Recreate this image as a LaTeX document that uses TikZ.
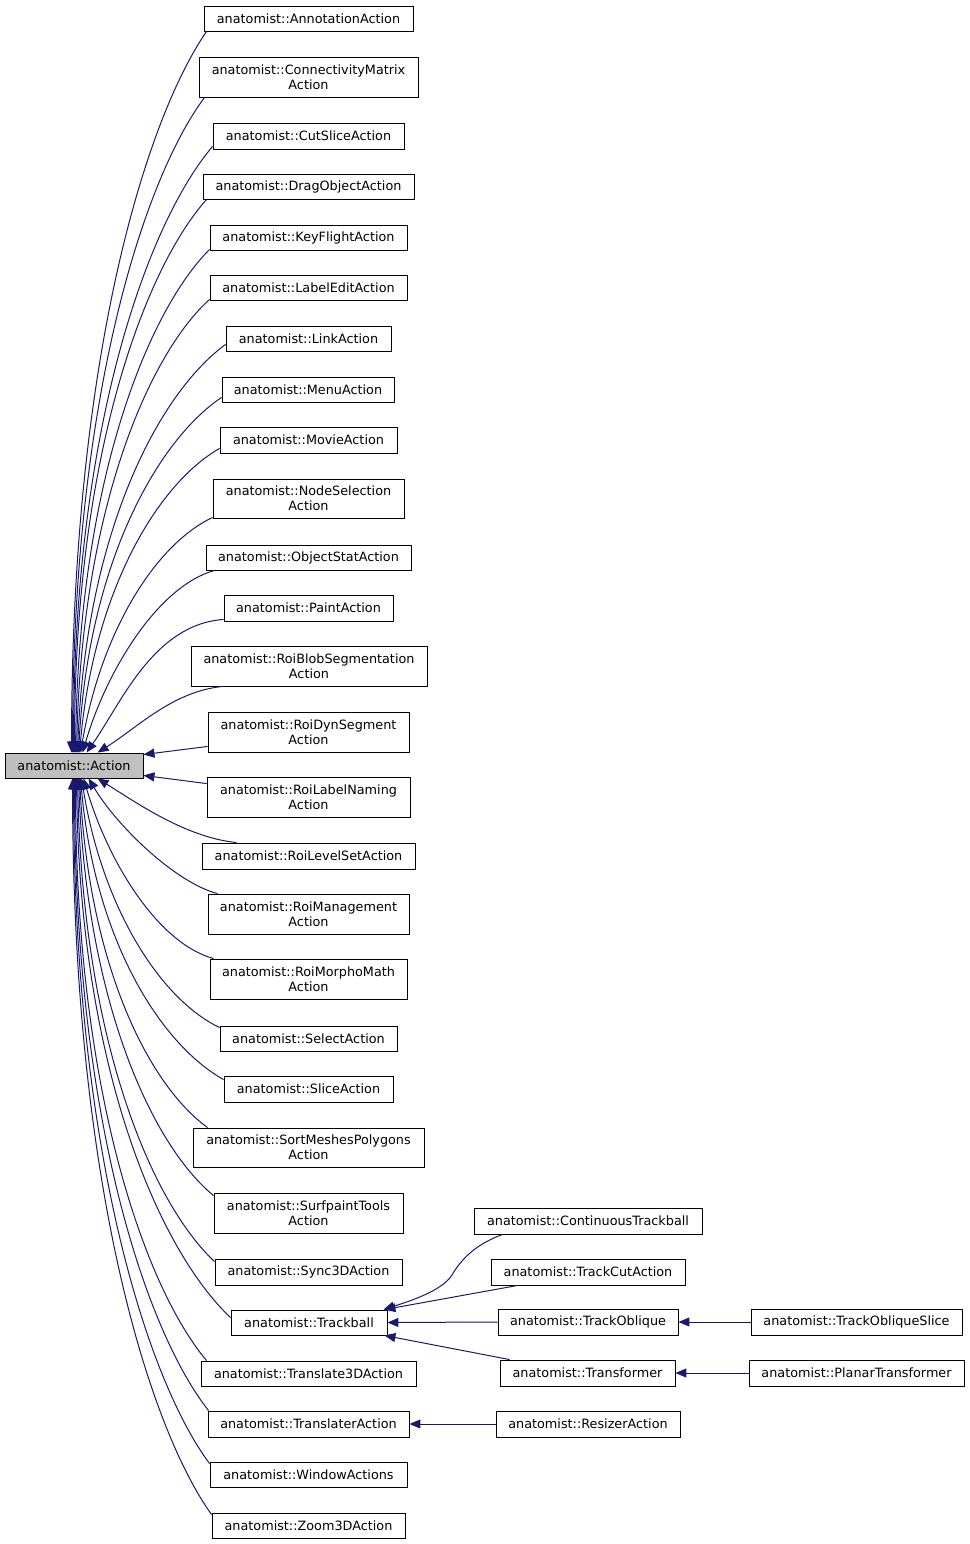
\documentclass[tikz,border=0pt]{standalone}
\usepackage{fontspec}
\setmainfont{DejaVu Sans}
\usetikzlibrary{arrows.meta}
\definecolor{edgec}{HTML}{191970}
\definecolor{actfill}{HTML}{BFBFBF}
\tikzset{
  cls/.style={draw=black, line width=0.9pt, fill=white, inner sep=0pt, align=center,
    font=\fontsize{12.8}{14.6}\selectfont},
  edge/.style={draw=edgec, line width=1pt, -{Triangle[length=11pt,width=9pt,fill=edgec]}}
}
\newcommand\classbox[6]{\node[cls,minimum width={#4-#2},minimum height={#5-#3}] (#1) at ({(#2+#4)/2},{(#3+#5)/2}) {#6};}
\newcommand\upedge[8]{\draw[edge] ([shift={(#2,#3)}]#1.south west) .. controls +(#5,#6) and +(#7,#8) .. ([xshift={#4-5}]act.north west);}
\newcommand\downedge[8]{\draw[edge] ([shift={(#2,#3)}]#1.north west) .. controls +(#5,#6) and +(#7,#8) .. ([xshift={#4-5}]act.south west);}
\begin{document}
\begin{tikzpicture}[x=1pt,y=-1pt]
\useasboundingbox[fill=white] (0,0) rectangle (969,1544);
\node[cls,fill=actfill,minimum width=138,minimum height=25] (act) at (74,765.5) {anatomist::Action};
\classbox{annot}{204}{6}{413}{31}{anatomist::AnnotationAction}
\classbox{conn}{199}{57}{418}{97}{anatomist::ConnectivityMatrix\\Action}
\classbox{cut}{213}{123}{404}{149}{anatomist::CutSliceAction}
\classbox{drag}{203}{174}{414}{199}{anatomist::DragObjectAction}
\classbox{key}{210}{225}{407}{250}{anatomist::KeyFlightAction}
\classbox{label}{210}{275}{407}{300}{anatomist::LabelEditAction}
\classbox{link}{226}{326}{391}{351}{anatomist::LinkAction}
\classbox{menu}{222}{377}{394}{402}{anatomist::MenuAction}
\classbox{movie}{220}{427}{397}{453}{anatomist::MovieAction}
\classbox{nodesel}{213}{479}{404}{518}{anatomist::NodeSelection\\Action}
\classbox{objstat}{206}{545}{411}{570}{anatomist::ObjectStatAction}
\classbox{paint}{224}{595}{393}{621}{anatomist::PaintAction}
\classbox{roiblob}{191}{646}{427}{686}{anatomist::RoiBlobSegmentation\\Action}
\classbox{roidyn}{208}{712}{409}{752}{anatomist::RoiDynSegment\\Action}
\classbox{roilabel}{207}{777}{410}{817}{anatomist::RoiLabelNaming\\Action}
\classbox{levelset}{202}{843}{415}{869}{anatomist::RoiLevelSetAction}
\classbox{roimgmt}{208}{894}{409}{934}{anatomist::RoiManagement\\Action}
\classbox{morpho}{210}{959}{407}{999}{anatomist::RoiMorphoMath\\Action}
\classbox{select}{220}{1026}{397}{1051}{anatomist::SelectAction}
\classbox{slice}{224}{1076}{393}{1102}{anatomist::SliceAction}
\classbox{sortmesh}{193}{1128}{424}{1167}{anatomist::SortMeshesPolygons\\Action}
\classbox{surfpaint}{214}{1193}{403}{1233}{anatomist::SurfpaintTools\\Action}
\classbox{sync}{215}{1259}{402}{1285}{anatomist::Sync3DAction}
\classbox{trackball}{231}{1310}{387}{1335}{anatomist::Trackball}
\classbox{transl3d}{201}{1361}{416}{1386}{anatomist::Translate3DAction}
\classbox{translater}{208}{1411}{409}{1437}{anatomist::TranslaterAction}
\classbox{window}{210}{1462}{407}{1487}{anatomist::WindowActions}
\classbox{zoom}{212}{1513}{405}{1538}{anatomist::Zoom3DAction}
\classbox{contTB}{474}{1208}{702}{1234}{anatomist::ContinuousTrackball}
\classbox{trackcut}{491}{1259}{685}{1285}{anatomist::TrackCutAction}
\classbox{trackobl}{498}{1309}{678}{1335}{anatomist::TrackOblique}
\classbox{transformer}{500}{1360}{675}{1386}{anatomist::Transformer}
\classbox{resizer}{496}{1411}{680}{1437}{anatomist::ResizerAction}
\classbox{tobslice}{751}{1309}{962}{1335}{anatomist::TrackObliqueSlice}
\classbox{planar}{749}{1360}{964}{1386}{anatomist::PlanarTransformer}
% edges to the top of Action
\upedge{annot}{3}{0}{72}{-60}{87}{0}{-397}
\upedge{conn}{6}{0}{73}{-59}{79}{0}{-360}
\upedge{cut}{0}{-3}{74}{-62}{73}{0}{-333}
\upedge{drag}{4}{0}{75}{-59}{66}{0}{-304}
\upedge{key}{0}{-1}{76}{-60}{60}{3}{-275}
\upedge{label}{0}{-1}{77}{-60}{54}{5}{-245}
\upedge{link}{0}{-7}{78}{-67}{49}{8}{-220}
\upedge{menu}{0}{-5}{79}{-64}{43}{10}{-190}
\upedge{movie}{0}{-5}{80}{-63}{36}{14}{-160}
\upedge{nodesel}{0}{-1}{81}{-59}{28}{20}{-118}
\upedge{objstat}{9}{0}{83}{-55}{15}{25}{-85}
\upedge{paint}{0}{-2}{87}{-70}{5}{35}{-50}
\upedge{roiblob}{32}{0}{98}{-50}{5}{40}{-25}
% edges to the right side of Action
\draw[edge] ([yshift=6]roidyn.south west) -- ([yshift=-2]act.north east);
\draw[edge] ([yshift=-7]roilabel.north west) -- ([yshift=3]act.south east);
% edges to the bottom of Action
\downedge{levelset}{35}{0}{98}{-50}{-5}{40}{25}
\downedge{roimgmt}{10}{0}{89}{-40}{-10}{30}{50}
\downedge{morpho}{4}{0}{84}{-55}{-15}{25}{85}
\downedge{select}{0}{2}{82}{-62}{-30}{20}{125}
\downedge{slice}{0}{4}{81}{-64}{-36}{14}{160}
\downedge{sortmesh}{15}{0}{80}{-58}{-42}{10}{190}
\downedge{surfpaint}{0}{3}{79}{-61}{-50}{8}{225}
\downedge{sync}{0}{3}{78}{-62}{-58}{5}{265}
\downedge{trackball}{0}{8}{77}{-69}{-65}{3}{295}
\downedge{transl3d}{6}{0}{76}{-59}{-70}{0}{320}
\downedge{translater}{1}{0}{75}{-60}{-76}{0}{348}
\downedge{window}{0}{2}{74}{-61}{-82}{0}{377}
\downedge{zoom}{0}{2}{73}{-63}{-88}{0}{405}
% Trackball family
\draw[edge] ([xshift=29]contTB.south west) .. controls +(-28,10) and +(8,-14) .. (452,1275) .. controls +(-10,16) and +(25,-8) .. ([xshift=-4]trackball.north east);
\draw[edge] ([xshift=27]trackcut.south west) -- ([xshift=-3]trackball.north east);
\draw[edge] (trackobl.west) -- (trackball.east);
\draw[edge] ([xshift=10]transformer.north west) -- ([xshift=-3]trackball.south east);
\draw[edge] (tobslice.west) -- (trackobl.east);
\draw[edge] (planar.west) -- (transformer.east);
\draw[edge] (resizer.west) -- (translater.east);
\end{tikzpicture}
\end{document}
